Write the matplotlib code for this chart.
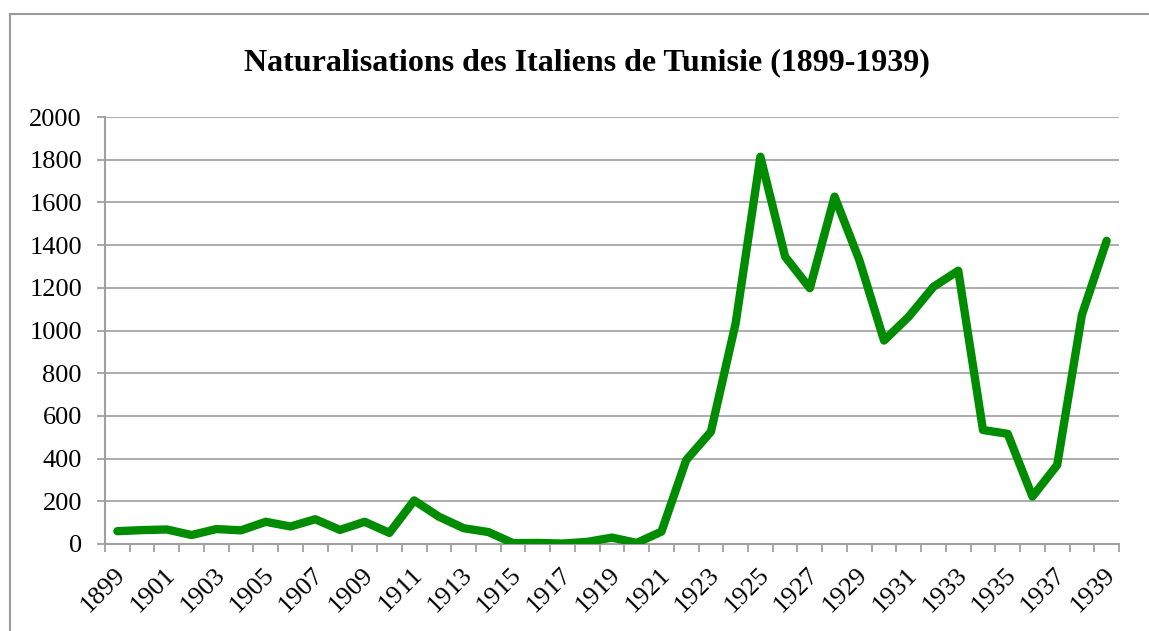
import matplotlib
matplotlib.use("Agg")
import matplotlib.pyplot as plt
from matplotlib.patches import Rectangle
from matplotlib.transforms import ScaledTranslation
import numpy as np

years = list(range(1899, 1940))
values = [60, 65, 68, 42, 70, 64, 104, 82, 116, 66, 104, 52, 204, 128, 74, 56, 4, 5, 2, 10, 30, 5, 58,
          393, 526, 1034, 1814, 1346, 1198, 1627, 1330, 953, 1065, 1205, 1280, 534, 516, 222, 370, 1073, 1420]
yticks = list(range(0, 2001, 200))
title = "Naturalisations des Italiens de Tunisie (1899-1939)"

W, H = 1149, 631
fig = plt.figure(figsize=(W / 100, H / 100), dpi=100)
fig.patches.append(Rectangle((10 / W, -0.1), 1.2, (H - 13.5) / H + 0.1, transform=fig.transFigure,
                             fill=False, edgecolor="#9a9a9a", linewidth=1.5))

ax = fig.add_axes([105 / W, (H - 544) / H, (1119 - 105) / W, (544 - 117) / H])
x = np.arange(len(years))
ax.plot(x, values, color="#008C00", linewidth=6, solid_joinstyle="round", solid_capstyle="round", zorder=3)

ax.set_xlim(-0.5, len(years) - 0.5)
ax.set_ylim(0, 2000)
ax.set_yticks(yticks)
ax.set_yticklabels([str(v) for v in yticks], fontfamily="Liberation Serif", fontsize=19)
ax.yaxis.grid(True, color="#a6a6a6", linewidth=1.3)
ax.set_axisbelow(True)

ax.set_xticks(np.arange(-0.5, len(years), 1.0), minor=True)
ax.set_xticks(x[::2])
ax.set_xticklabels([str(y) for y in years[::2]], rotation=45, ha="right", va="center",
                   rotation_mode="anchor", fontfamily="Liberation Serif", fontsize=19)
ax.tick_params(axis="x", which="major", length=0, pad=0)
ax.tick_params(axis="x", which="minor", length=5.8, color="#a0a0a0", width=1.3)
ax.tick_params(axis="y", length=5.8, color="#a0a0a0", width=1.3, pad=10.8)
offset = ScaledTranslation(5 / 100, -27 / 100, fig.dpi_scale_trans)
for lbl in ax.get_xticklabels():
    lbl.set_transform(lbl.get_transform() + offset)

for s in ["top", "right"]:
    ax.spines[s].set_visible(False)
for s in ["left", "bottom"]:
    ax.spines[s].set_color("#a0a0a0")
    ax.spines[s].set_linewidth(1.5)

fig.text(586.5 / W, (H - 63) / H, title, ha="center", va="center", fontfamily="Liberation Serif",
         fontweight="bold", fontsize=23)

fig.savefig("out.png", dpi=100)
